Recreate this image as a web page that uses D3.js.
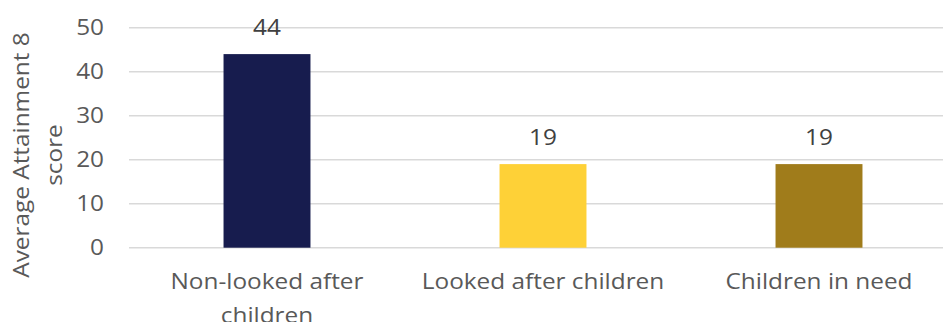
<!DOCTYPE html>
<html>
<head>
<meta charset="utf-8">
<script src="https://cdn.jsdelivr.net/npm/d3@7"></script>
<style>
  html, body { margin: 0; padding: 0; background: #fff; }
  svg { display: block; }
  text { font-family: "Open Sans", "Noto Sans", sans-serif; }
</style>
</head>
<body>
<script>
// Average Attainment 8 score by pupil group
const categories = ["Non-looked after children", "Looked after children", "Children in need"];
const scores = [44, 19, 19];
const barColors = ["#171c4e", "#fed137", "#a07c1b"];
const yTicks = [0, 10, 20, 30, 40, 50];
const yTitle = ["Average Attainment 8", "score"];

const W = 943, H = 322;
const plot = { left: 129, right: 957, top: 27.7, bottom: 247.7 };
const fontSize = 21;
const stretch = 1.16; // wide letterforms

const svg = d3.select("body").append("svg")
  .attr("width", W).attr("height", H);

const x = d3.scaleBand()
  .domain(categories)
  .range([plot.left, plot.right])
  .paddingInner(0.685)
  .paddingOuter(0.3425);

const y = d3.scaleLinear()
  .domain([0, 50])
  .range([plot.bottom, plot.top]);

// places a text at (px, py) with its letterforms widened
function place(sel, px, py, rot) {
  sel.attr("x", 0).attr("y", 0)
    .attr("transform", (d, i) => {
      const X = typeof px === "function" ? px(d, i) : px;
      const Y = typeof py === "function" ? py(d, i) : py;
      return `translate(${X},${Y})` + (rot ? ` rotate(${rot})` : "") + ` scale(${stretch},1)`;
    });
  return sel;
}

// horizontal gridlines
svg.append("g").selectAll("line")
  .data(yTicks)
  .join("line")
  .attr("x1", plot.left).attr("x2", plot.right)
  .attr("y1", d => y(d)).attr("y2", d => y(d))
  .attr("stroke", "#d9d9d9")
  .attr("stroke-width", 1.6);

// tick labels
svg.append("g").selectAll("text")
  .data(yTicks)
  .join("text")
  .call(place, 104, d => y(d))
  .attr("dy", "0.35em")
  .attr("text-anchor", "end")
  .attr("fill", "#595959")
  .style("font-size", fontSize + "px")
  .text(d => d);

// bars
svg.append("g").selectAll("rect")
  .data(categories)
  .join("rect")
  .attr("x", d => x(d))
  .attr("width", x.bandwidth())
  .attr("y", (d, i) => y(scores[i]))
  .attr("height", (d, i) => y(0) - y(scores[i]))
  .attr("fill", (d, i) => barColors[i]);

// value labels
svg.append("g").selectAll("text")
  .data(categories)
  .join("text")
  .call(place, d => x(d) + x.bandwidth() / 2, (d, i) => y(scores[i]) - 19)
  .attr("text-anchor", "middle")
  .attr("fill", "#404040")
  .style("font-size", fontSize + "px")
  .text((d, i) => scores[i]);

// category labels, wrapped to the band width (unstretched units)
const maxLabelWidth = 212;
const catLabels = svg.append("g").selectAll("text")
  .data(categories)
  .join("text")
  .call(place, d => x(d) + x.bandwidth() / 2, 289)
  .attr("text-anchor", "middle")
  .attr("fill", "#595959")
  .style("font-size", fontSize + "px");

catLabels.each(function(d) {
  const t = d3.select(this);
  const words = d.split(" ");
  let line = [];
  let tspan = t.append("tspan").attr("x", 0).attr("dy", 0);
  for (const w of words) {
    line.push(w);
    tspan.text(line.join(" "));
    if (tspan.node().getComputedTextLength() > maxLabelWidth && line.length > 1) {
      line.pop();
      tspan.text(line.join(" "));
      line = [w];
      tspan = t.append("tspan").attr("x", 0).attr("dy", "1.6em").text(w);
    }
  }
});

// y-axis title
const title = svg.append("text")
  .call(place, 22, 155, -90)
  .attr("text-anchor", "middle")
  .attr("fill", "#595959")
  .style("font-size", fontSize + "px");
yTitle.forEach((s, i) => {
  title.append("tspan")
    .attr("x", 0)
    .attr("dy", i === 0 ? "0.35em" : "1.55em")
    .text(s);
});
</script>
</body>
</html>
